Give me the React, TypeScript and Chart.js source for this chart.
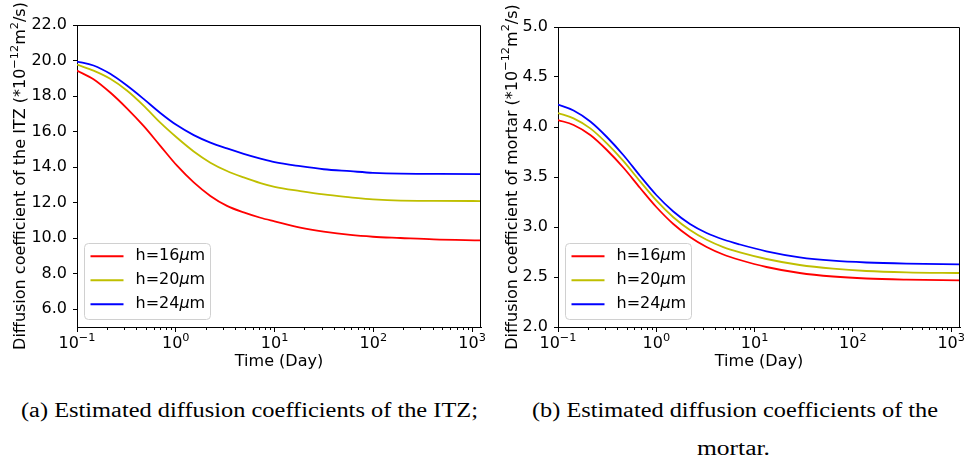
import React, { useEffect, useRef } from 'react';
import { Chart, registerables } from 'chart.js';

Chart.register(...registerables);

// ---------- data ----------
const seriesLabels = ['h=16μm', 'h=20μm', 'h=24μm'];
const seriesColors = ['#ff0000', '#bfbf00', '#0000ff'];

// ITZ (left panel)
const itzTime = [0.1, 0.147, 0.217, 0.32, 0.472, 0.697, 1.03, 1.52, 2.24, 3.3, 4.87, 7.2, 10, 18.2, 31.4, 58.5, 99, 188, 408, 1240];
const itzH16 = [19.43, 18.95, 18.2, 17.31, 16.32, 15.2, 14.08, 13.14, 12.38, 11.82, 11.45, 11.15, 10.95, 10.6, 10.37, 10.18, 10.08, 10.01, 9.93, 9.88];
const itzH20 = [19.77, 19.43, 18.97, 18.31, 17.46, 16.5, 15.65, 14.88, 14.25, 13.78, 13.42, 13.1, 12.89, 12.65, 12.46, 12.3, 12.18, 12.11, 12.1, 12.09];
const itzH24 = [19.94, 19.72, 19.25, 18.59, 17.84, 17.05, 16.35, 15.8, 15.38, 15.05, 14.75, 14.48, 14.28, 14.05, 13.88, 13.77, 13.68, 13.63, 13.62, 13.61];

// Mortar (right panel)
const mortarTime = [0.1, 0.144, 0.213, 0.314, 0.466, 0.685, 1.0, 1.49, 2.2, 3.25, 4.8, 7.1, 13.2, 28.8, 62.8, 137, 350, 1230];
const mortarH16 = [4.07, 4.02, 3.92, 3.77, 3.59, 3.39, 3.2, 3.03, 2.9, 2.8, 2.725, 2.67, 2.6, 2.54, 2.505, 2.485, 2.474, 2.467];
const mortarH20 = [4.14, 4.086, 3.986, 3.836, 3.656, 3.456, 3.266, 3.098, 2.97, 2.872, 2.799, 2.746, 2.68, 2.62, 2.583, 2.56, 2.547, 2.54];
const mortarH24 = [4.224, 4.165, 4.055, 3.9, 3.715, 3.51, 3.32, 3.155, 3.03, 2.94, 2.875, 2.825, 2.757, 2.697, 2.663, 2.645, 2.634, 2.627];

// axes
const xMin = 0.1;
const xMax = 1230;
const xMajorTicks = [0.1, 1, 10, 100, 1000];
const xTickBase = '10';
const xTickExponents = ['−1', '0', '1', '2', '3'];
const xMinorTicks = [0.2, 0.3, 0.4, 0.5, 0.6, 0.7, 0.8, 0.9, 2, 3, 4, 5, 6, 7, 8, 9, 20, 30, 40, 50, 60, 70, 80, 90, 200, 300, 400, 500, 600, 700, 800, 900];
const itzYTicks = [6, 8, 10, 12, 14, 16, 18, 20, 22];
const mortarYTicks = [2.0, 2.5, 3.0, 3.5, 4.0, 4.5, 5.0];

const xTitle = 'Time (Day)';
const itzYTitleMain = 'Diffusion coefficient of the ITZ';
const mortarYTitleMain = 'Diffusion coefficient of mortar';
const unitParts = [
  { t: ' (*10', sup: false },
  { t: '−12', sup: true },
  { t: 'm', sup: false },
  { t: '2', sup: true },
  { t: '/s)', sup: false },
];

const captionA = '(a) Estimated diffusion coefficients of the ITZ;';
const captionB1 = '(b) Estimated diffusion coefficients of the';
const captionB2 = 'mortar.';

const FONT = 'DejaVu Sans';
const FSIZE = 16;
const SUPSIZE = 11.3;
const SUPRISE = 7.5;

type Seg = { t: string; sup: boolean };

function toPoints(t: number[], v: number[]) {
  return t.map((x, i) => ({ x, y: v[i] }));
}

function segWidth(ctx: CanvasRenderingContext2D, segs: Seg[]) {
  let w = 0;
  for (const s of segs) {
    ctx.font = `${s.sup ? SUPSIZE : FSIZE}px "${FONT}"`;
    w += ctx.measureText(s.t).width;
  }
  return w;
}

function drawSegs(ctx: CanvasRenderingContext2D, segs: Seg[], x: number, y: number) {
  let cx = x;
  for (const s of segs) {
    ctx.font = `${s.sup ? SUPSIZE : FSIZE}px "${FONT}"`;
    ctx.fillText(s.t, cx, s.sup ? y - SUPRISE : y);
    cx += ctx.measureText(s.t).width;
  }
}

const decorPlugin = {
  id: 'decor',
  afterDraw(chart: any, _args: any, opts: any) {
    const { ctx, chartArea: a, scales } = chart;
    const xs = scales.x;
    ctx.save();
    ctx.strokeStyle = '#000';
    ctx.lineWidth = 1;
    const top = Math.round(a.top) + 0.5;
    const right = Math.round(a.right) - 0.5;
    ctx.beginPath();
    ctx.moveTo(a.left, top);
    ctx.lineTo(right, top);
    ctx.lineTo(right, a.bottom);
    ctx.stroke();
    // minor ticks
    ctx.beginPath();
    const bottom = Math.round(a.bottom);
    for (const v of xMinorTicks) {
      const px = Math.round(xs.getPixelForValue(v)) + 0.5;
      ctx.moveTo(px, bottom);
      ctx.lineTo(px, bottom + 3);
    }
    ctx.stroke();

    // x tick labels (10^n)
    ctx.fillStyle = '#000';
    ctx.textBaseline = 'alphabetic';
    ctx.textAlign = 'left';
    xMajorTicks.forEach((v, i) => {
      const segs: Seg[] = [
        { t: xTickBase, sup: false },
        { t: xTickExponents[i], sup: true },
      ];
      const w = segWidth(ctx, segs);
      const px = xs.getPixelForValue(v);
      drawSegs(ctx, segs, px - w / 2, opts.xLabelBaseline);
    });

    // y title (rotated, with superscripts)
    const tsegs: Seg[] = [{ t: opts.yTitleMain, sup: false }, ...unitParts];
    const tw = segWidth(ctx, tsegs);
    ctx.save();
    ctx.translate(opts.yTitleBaselineX, (a.top + a.bottom) / 2);
    ctx.rotate(-Math.PI / 2);
    drawSegs(ctx, tsegs, -tw / 2, 0);
    ctx.restore();

    // legend
    const bx = Math.round(a.left) + 7.5;
    const bh = 76;
    const by = Math.round(a.bottom) - 8 - bh + 0.5;
    const bw = 126;
    ctx.beginPath();
    (ctx as any).roundRect(bx, by, bw, bh, 4);
    ctx.fillStyle = 'rgba(255,255,255,0.8)';
    ctx.fill();
    ctx.strokeStyle = '#d0d0d0';
    ctx.lineWidth = 1;
    ctx.stroke();
    ctx.textBaseline = 'middle';
    chart.data.datasets.forEach((ds: any, i: number) => {
      const y = by + 12.7 + i * 24;
      ctx.strokeStyle = ds.borderColor;
      ctx.lineWidth = 2;
      ctx.beginPath();
      ctx.moveTo(bx + 6, y);
      ctx.lineTo(bx + 39, y);
      ctx.stroke();
      const label: string = ds.label;
      const k = label.indexOf('μ');
      const pre = label.slice(0, k);
      const post = label.slice(k + 1);
      let tx = bx + 51;
      ctx.fillStyle = '#000';
      ctx.font = `${FSIZE}px "${FONT}"`;
      ctx.fillText(pre, tx, y);
      tx += ctx.measureText(pre).width;
      ctx.font = `italic ${FSIZE}px "${FONT}"`;
      ctx.fillText('μ', tx, y);
      tx += ctx.measureText('μ').width;
      ctx.font = `${FSIZE}px "${FONT}"`;
      ctx.fillText(post, tx, y);
    });
    ctx.restore();
  },
};

type PanelProps = {
  left: number;
  width: number;
  height: number;
  time: number[];
  series: number[][];
  yMin: number;
  yMax: number;
  yTicks: number[];
  yTitleMain: string;
  yAxisWidth: number;
  padRight: number;
  padTop: number;
  yTitleBaselineX: number;
};

function Panel(p: PanelProps) {
  const ref = useRef<HTMLCanvasElement>(null);
  useEffect(() => {
    if (!ref.current) return;
    const font = { family: FONT, size: FSIZE };
    const chart = new Chart(ref.current, {
      type: 'line',
      data: {
        datasets: p.series.map((vals, i) => ({
          label: seriesLabels[i],
          data: toPoints(p.time, vals),
          borderColor: seriesColors[i],
          backgroundColor: seriesColors[i],
          borderWidth: 1.8,
          pointRadius: 0,
          fill: false,
          cubicInterpolationMode: 'monotone' as const,
        })),
      },
      options: {
        animation: false,
        responsive: false,
        devicePixelRatio: 1,
        layout: { padding: { left: 0, right: p.padRight, top: p.padTop, bottom: 0 } },
        plugins: {
          legend: { display: false },
          tooltip: { enabled: false },
          decor: { yTitleMain: p.yTitleMain, yTitleBaselineX: p.yTitleBaselineX, xLabelBaseline: 348.3 },
        },
        scales: {
          x: {
            type: 'logarithmic',
            min: xMin,
            max: xMax,
            afterBuildTicks: (s: any) => {
              s.ticks = xMajorTicks.map((v) => ({ value: v, major: true }));
            },
            afterFit: (s: any) => {
              s.height = p.height - 327;
            },
            ticks: { display: false, autoSkip: false, maxRotation: 0, font },
            grid: { display: true, drawOnChartArea: false, drawTicks: true, tickLength: 5, color: '#000' },
            border: { display: true, color: '#000', width: 1 },
            title: {
              display: true,
              text: xTitle,
              color: '#000',
              font: { family: FONT, size: FSIZE, lineHeight: 1 },
              padding: { top: 0, bottom: 0 },
            },
          },
          y: {
            type: 'linear',
            min: p.yMin,
            max: p.yMax,
            afterBuildTicks: (s: any) => {
              s.ticks = p.yTicks.map((v) => ({ value: v }));
            },
            afterFit: (s: any) => {
              s.width = p.yAxisWidth;
            },
            ticks: {
              callback: (v: any) => Number(v).toFixed(1),
              padding: 6,
              color: '#000',
              font,
            },
            grid: { display: true, drawOnChartArea: false, drawTicks: true, tickLength: 4, color: '#000' },
            border: { display: true, color: '#000', width: 1 },
            title: { display: false },
          },
        },
      },
      plugins: [decorPlugin],
    } as any);
    return () => chart.destroy();
  }, []);
  return (
    <canvas
      ref={ref}
      width={p.width}
      height={p.height}
      style={{ position: 'absolute', left: p.left, top: 0, width: p.width, height: p.height }}
    />
  );
}

export default function App() {
  const serif = 'Liberation Serif';
  return (
    <div style={{ position: 'absolute', left: 0, top: 0, width: 966, height: 460, background: '#fff', overflow: 'hidden' }}>
      <Panel
        left={0}
        width={490}
        height={370}
        time={itzTime}
        series={[itzH16, itzH20, itzH24]}
        yMin={5}
        yMax={22}
        yTicks={itzYTicks}
        yTitleMain={itzYTitleMain}
        yAxisWidth={77}
        padRight={9}
        padTop={25}
        yTitleBaselineX={25}
      />
      <Panel
        left={490}
        width={476}
        height={370}
        time={mortarTime}
        series={[mortarH16, mortarH20, mortarH24]}
        yMin={2}
        yMax={5}
        yTicks={mortarYTicks}
        yTitleMain={mortarYTitleMain}
        yAxisWidth={68}
        padRight={6}
        padTop={27}
        yTitleBaselineX={26.5}
      />
      <svg width={966} height={80} style={{ position: 'absolute', left: 0, top: 380 }}>
        <text x={21} y={36.7} textLength={457} lengthAdjust="spacingAndGlyphs" fontFamily={serif} fontSize={20.5} fill="#000">
          {captionA}
        </text>
        <text x={532} y={36.7} textLength={406} lengthAdjust="spacingAndGlyphs" fontFamily={serif} fontSize={20.5} fill="#000">
          {captionB1}
        </text>
        <text x={697} y={74.5} textLength={73} lengthAdjust="spacingAndGlyphs" fontFamily={serif} fontSize={20.5} fill="#000">
          {captionB2}
        </text>
      </svg>
    </div>
  );
}
